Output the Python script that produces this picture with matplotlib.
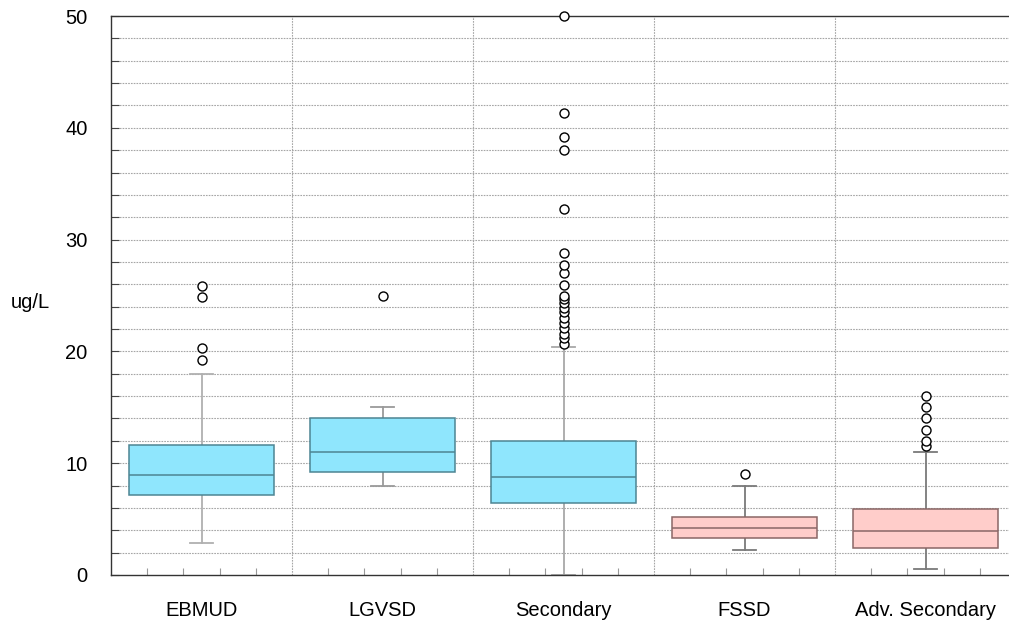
import numpy as np
import matplotlib as mpl
import matplotlib.pyplot as plt
from matplotlib.ticker import MultipleLocator, FixedLocator

mpl.rcParams['font.family'] = ['Liberation Sans', 'DejaVu Sans']
mpl.rcParams['font.size'] = 14.5

# data
groups = ['EBMUD', 'LGVSD', 'Secondary', 'FSSD', 'Adv. Secondary']
q1     = [7.2, 9.2, 6.4, 3.3, 2.4]
med    = [8.9, 11.0, 8.8, 4.2, 3.9]
q3     = [11.6, 14.0, 12.0, 5.2, 5.9]
whislo = [2.9, 8.0, 0.0, 2.2, 0.5]
whishi = [18.0, 15.0, 20.4, 8.0, 11.0]
fliers = [
    [19.2, 20.3, 24.9, 25.85],
    [25.0],
    [20.7, 21.2, 21.6, 22.1, 22.5, 22.95, 23.55, 23.9, 24.3, 24.7, 25.0,
     25.9, 27.0, 27.7, 28.8, 32.7, 38.0, 39.2, 41.3, 50.0],
    [9.0],
    [11.5, 12.0, 13.0, 14.0, 15.0, 16.0],
]
fills  = ['#8fe6fd', '#8fe6fd', '#8fe6fd', '#ffcdca', '#ffcdca']
edges  = ['#4d8593', '#4d8593', '#4d8593', '#8a6766', '#8a6766']
whisk  = ['#b0b0b0', '#9a9a9a', '#a8a8a8', '#7a7a7a', '#7a7a7a']

fig = plt.figure(figsize=(10.09, 6.25), dpi=100)
ax = fig.add_axes([111/1009, 50/625, 905/1009, 559/625])

pos = np.arange(1, len(groups) + 1)
stats = []
for i, g in enumerate(groups):
    stats.append(dict(label=g, q1=q1[i], med=med[i], q3=q3[i],
                      whislo=whislo[i], whishi=whishi[i], fliers=fliers[i]))

res = ax.bxp(stats, positions=pos, widths=0.8, capwidths=0.127,
             patch_artist=True, showfliers=True)

for i in range(len(groups)):
    b = res['boxes'][i]
    b.set_facecolor(fills[i])
    b.set_edgecolor(edges[i])
    b.set_linewidth(1.1)
    b.set_zorder(3)
    m = res['medians'][i]
    m.set_color(edges[i])
    m.set_linewidth(1.1)
    m.set_zorder(4)
    for ln in res['whiskers'][2*i:2*i+2] + res['caps'][2*i:2*i+2]:
        ln.set_color(whisk[i])
        ln.set_linewidth(1.3)
        ln.set_zorder(2)
    f = res['fliers'][i]
    f.set_marker('o')
    f.set_markerfacecolor('white')
    f.set_markeredgecolor('black')
    f.set_markersize(6.5)
    f.set_markeredgewidth(1.0)
    f.set_clip_on(False)
    f.set_zorder(5)

ax.set_xlim(0.5, len(groups) + 0.5)
ax.set_ylim(0, 50)

grid_kw = dict(color='#a6a6a6', linestyle=(0, (1.5, 1.0)), linewidth=0.8, zorder=1)
for y in np.arange(2, 50, 2):
    ax.axhline(y, **grid_kw)
for x in pos[:-1] + 0.5:
    ax.axvline(x, **grid_kw)

ax.yaxis.set_major_locator(MultipleLocator(10))
ax.yaxis.set_minor_locator(MultipleLocator(2))
ax.set_xticks(pos)
ax.set_xticklabels(groups)
minor_x = [p - 0.5 + f for p in pos for f in (0.2, 0.4, 0.6, 0.8)]
ax.xaxis.set_minor_locator(FixedLocator(minor_x))

ax.tick_params(axis='y', which='both', direction='in', length=6, width=0.8,
               color='#444444', pad=17, labelsize=14.5)
ax.tick_params(axis='x', which='major', length=0, pad=19, labelsize=14.5)
ax.tick_params(axis='x', which='minor', direction='in', length=5, width=0.8,
               color='#999999')

for s in ['left', 'bottom', 'top']:
    ax.spines[s].set_color('#333333')
    ax.spines[s].set_linewidth(1.0)
ax.spines['right'].set_visible(False)

fig.text(30/1009, 1 - 302/625, 'ug/L', ha='center', va='center', fontsize=14.5)

plt.savefig('out.png', dpi=100)
